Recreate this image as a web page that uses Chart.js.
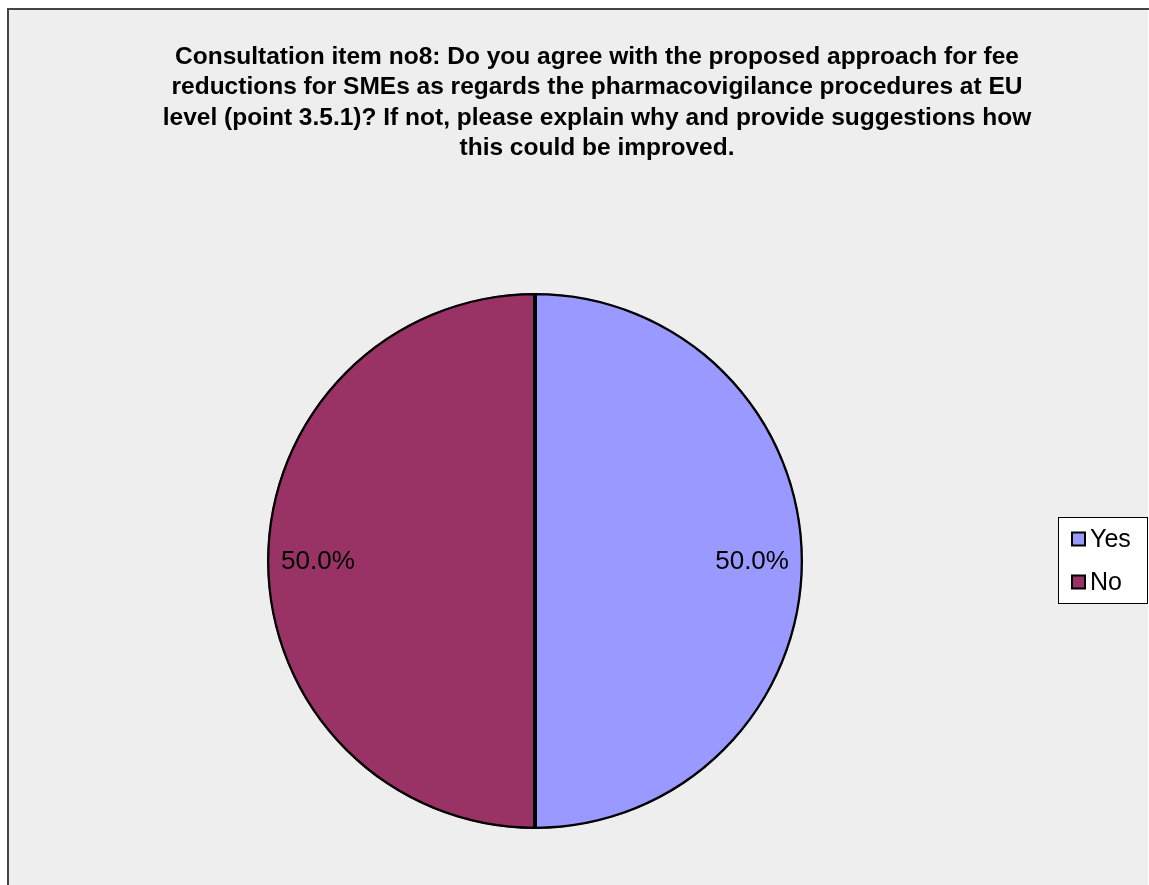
<!DOCTYPE html>
<html>
<head>
<meta charset="utf-8">
<script src="https://cdn.jsdelivr.net/npm/chart.js@4.4.1/dist/chart.umd.min.js"></script>
<style>
  html, body { margin: 0; padding: 0; background: #ffffff; }
  #wrap { position: relative; width: 1149px; height: 885px; }
</style>
</head>
<body>
<div id="wrap"><canvas id="c" width="1149" height="885"></canvas></div>
<script>
const categories = ['Yes', 'No'];
const responses = [50, 50];
const sliceColors = ['#9999FF', '#993366'];
const titleLines = [
  'Consultation item no8: Do you agree with the proposed approach for fee',
  'reductions for SMEs as regards the pharmacovigilance procedures at EU',
  'level (point 3.5.1)? If not, please explain why and provide suggestions how',
  'this could be improved.'
];

const FONT = '"Liberation Sans", Arial, sans-serif';

// Frame, title, percentage labels and legend box
const decor = {
  id: 'decor',
  beforeDraw(chart) {
    const ctx = chart.ctx;
    ctx.save();
    ctx.fillStyle = '#ffffff';
    ctx.fillRect(0, 0, chart.width, chart.height);
    ctx.fillStyle = '#eeeeee';
    ctx.fillRect(8, 9, chart.width - 9, chart.height - 9);
    ctx.strokeStyle = '#444444';
    ctx.lineWidth = 2;
    ctx.beginPath();
    ctx.moveTo(8, chart.height);
    ctx.lineTo(8, 9);
    ctx.lineTo(chart.width, 9);
    ctx.stroke();

    ctx.fillStyle = '#000000';
    ctx.font = 'bold 24.5px ' + FONT;
    ctx.textAlign = 'center';
    ctx.textBaseline = 'middle';
    titleLines.forEach((t, i) => ctx.fillText(t, 597, 57 + i * 30.5));
    ctx.restore();
  },
  afterDatasetsDraw(chart) {
    const ctx = chart.ctx;
    const meta = chart.getDatasetMeta(0);
    const data = chart.data.datasets[0].data;
    const total = data.reduce((a, b) => a + b, 0);
    ctx.save();
    ctx.fillStyle = '#000000';
    ctx.font = '26px ' + FONT;
    ctx.textAlign = 'center';
    ctx.textBaseline = 'middle';
    meta.data.forEach((arc, i) => {
      const p = arc.getProps(['x', 'y', 'startAngle', 'endAngle', 'outerRadius']);
      const mid = (p.startAngle + p.endAngle) / 2;
      const d = p.outerRadius * 0.81;
      const txt = (data[i] / total * 100).toFixed(1) + '%';
      ctx.fillText(txt, p.x + Math.cos(mid) * d, p.y + Math.sin(mid) * d + 1);
    });

    // legend
    ctx.fillStyle = '#ffffff';
    ctx.fillRect(1058, 517, 89, 86);
    ctx.strokeStyle = '#000000';
    ctx.lineWidth = 1;
    ctx.strokeRect(1058.5, 517.5, 89, 86);
    ctx.font = '25px ' + FONT;
    ctx.textAlign = 'left';
    chart.data.labels.forEach((lab, i) => {
      const cy = 539 + i * 43;
      ctx.fillStyle = chart.data.datasets[0].backgroundColor[i];
      ctx.fillRect(1072, cy - 6.5, 13, 13);
      ctx.strokeStyle = '#000000';
      ctx.lineWidth = 2;
      ctx.strokeRect(1072, cy - 6.5, 13, 13);
      ctx.fillStyle = '#000000';
      ctx.fillText(lab, 1090, cy + 1);
    });
    ctx.restore();
  }
};

new Chart(document.getElementById('c'), {
  type: 'pie',
  data: {
    labels: categories,
    datasets: [{
      data: responses,
      backgroundColor: sliceColors,
      borderColor: '#000000',
      borderWidth: 2,
      borderAlign: 'inner'
    }]
  },
  options: {
    responsive: false,
    animation: false,
    devicePixelRatio: 1,
    layout: { padding: { left: 267, right: 346, top: 293, bottom: 56 } },
    plugins: {
      legend: { display: false },
      title: { display: false },
      tooltip: { enabled: false }
    }
  },
  plugins: [decor]
});
</script>
</body>
</html>
